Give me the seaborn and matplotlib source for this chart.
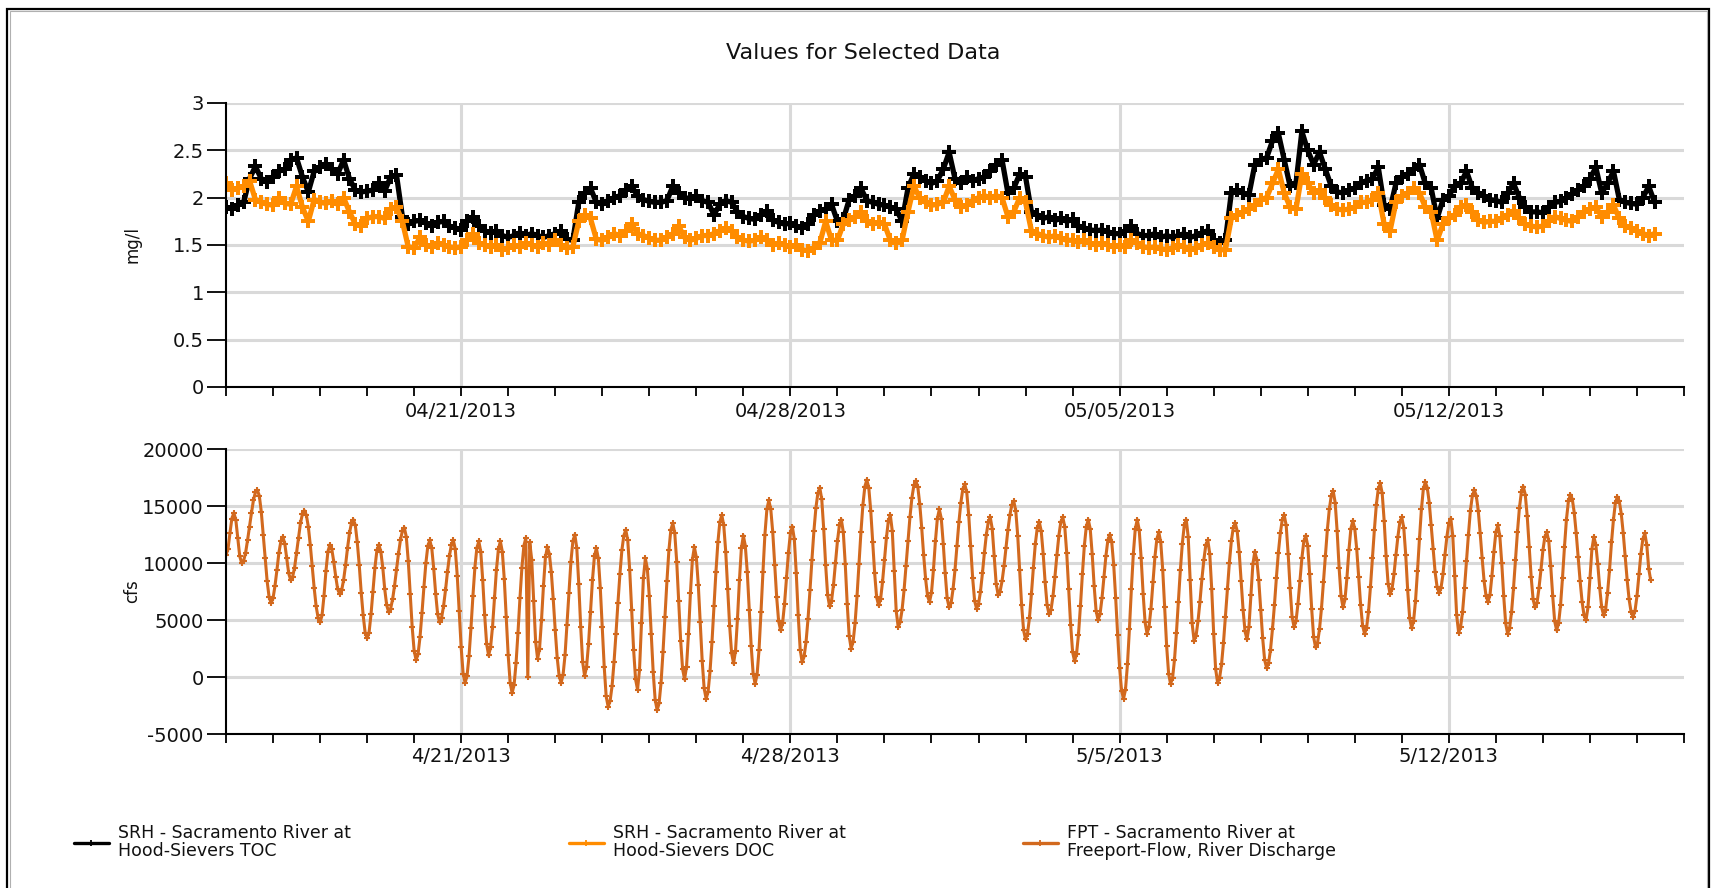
import pandas as pd
import matplotlib
matplotlib.use("Agg")
import matplotlib.pyplot as plt
import matplotlib.dates as mdates
from matplotlib.ticker import FuncFormatter
from matplotlib.lines import Line2D
from matplotlib.patches import Rectangle
import seaborn as sns

# ---------------- data ----------------
title = "Values for Selected Data"
start_time = "2013-04-16 00:00"
x_start, x_end = "2013-04-16", "2013-05-17"
quality_step = "3h"
flow_step = "h"

series_labels = [
    "SRH - Sacramento River at\nHood-Sievers TOC",
    "SRH - Sacramento River at\nHood-Sievers DOC",
    "FPT - Sacramento River at\nFreeport-Flow, River Discharge",
]
top_ylabel = "mg/l"
bottom_ylabel = "cfs"
top_yticks = [0, 0.5, 1, 1.5, 2, 2.5, 3]
bottom_yticks = [-5000, 0, 5000, 10000, 15000, 20000]

toc_mgl = [
    1.90, 1.88, 1.92, 1.95, 2.20, 2.33, 2.20, 2.17,
    2.22, 2.28, 2.30, 2.40, 2.42, 2.22, 2.06, 2.28,
    2.32, 2.36, 2.30, 2.25, 2.40, 2.20, 2.08, 2.06,
    2.07, 2.08, 2.15, 2.07, 2.22, 2.24, 1.80, 1.72,
    1.75, 1.76, 1.73, 1.70, 1.74, 1.75, 1.70, 1.68,
    1.66, 1.75, 1.80, 1.70, 1.65, 1.63, 1.65, 1.60,
    1.58, 1.60, 1.63, 1.60, 1.62, 1.60, 1.58, 1.60,
    1.62, 1.65, 1.56, 1.55, 1.95, 2.05, 2.10, 1.95,
    1.93, 1.97, 2.00, 2.02, 2.08, 2.12, 2.02, 1.98,
    1.96, 1.95, 1.95, 1.97, 2.12, 2.05, 2.00, 1.99,
    2.02, 1.97, 1.95, 1.82, 1.93, 1.97, 1.95, 1.85,
    1.80, 1.78, 1.77, 1.82, 1.86, 1.76, 1.74, 1.72,
    1.73, 1.70, 1.68, 1.72, 1.82, 1.86, 1.88, 1.93,
    1.75, 1.77, 1.98, 2.02, 2.10, 1.97, 1.95, 1.93,
    1.92, 1.90, 1.88, 1.75, 2.10, 2.25, 2.22, 2.18,
    2.15, 2.18, 2.30, 2.48, 2.20, 2.15, 2.22, 2.18,
    2.20, 2.22, 2.28, 2.35, 2.40, 2.05, 2.10, 2.25,
    2.22, 1.85, 1.82, 1.78, 1.80, 1.76, 1.78, 1.75,
    1.77, 1.70, 1.68, 1.66, 1.65, 1.66, 1.64, 1.62,
    1.62, 1.65, 1.70, 1.62, 1.60, 1.60, 1.62, 1.58,
    1.60, 1.58, 1.60, 1.62, 1.58, 1.60, 1.63, 1.65,
    1.55, 1.52, 1.55, 2.05, 2.08, 2.05, 2.03, 2.35,
    2.40, 2.42, 2.60, 2.68, 2.40, 2.12, 2.15, 2.70,
    2.50, 2.35, 2.48, 2.30, 2.12, 2.06, 2.05, 2.08,
    2.10, 2.15, 2.18, 2.20, 2.32, 1.92, 1.88, 2.15,
    2.22, 2.25, 2.30, 2.35, 2.15, 2.10, 1.78, 1.98,
    2.02, 2.12, 2.15, 2.28, 2.10, 2.05, 2.02, 1.98,
    1.97, 1.95, 2.05, 2.15, 2.00, 1.90, 1.85, 1.85,
    1.84, 1.90, 1.95, 1.96, 2.00, 2.04, 2.08, 2.12,
    2.20, 2.32, 2.05, 2.15, 2.28, 1.98, 1.95, 1.94,
    1.93, 2.00, 2.12, 1.95,
]

doc_mgl = [
    2.15, 2.08, 2.10, 2.12, 2.18, 1.98, 1.95, 1.93,
    1.92, 2.00, 1.94, 1.93, 2.12, 1.90, 1.75, 1.98,
    1.95, 1.94, 1.96, 1.93, 2.00, 1.85, 1.72, 1.70,
    1.78, 1.80, 1.80, 1.78, 1.88, 1.90, 1.75, 1.48,
    1.47, 1.58, 1.50, 1.48, 1.52, 1.50, 1.48, 1.47,
    1.48, 1.55, 1.62, 1.52, 1.50, 1.48, 1.50, 1.45,
    1.47, 1.50, 1.48, 1.52, 1.50, 1.48, 1.52, 1.50,
    1.55, 1.50, 1.47, 1.48, 1.75, 1.82, 1.78, 1.56,
    1.55, 1.58, 1.62, 1.60, 1.65, 1.72, 1.62, 1.60,
    1.57, 1.55, 1.55, 1.58, 1.62, 1.70, 1.58, 1.55,
    1.57, 1.60, 1.60, 1.62, 1.65, 1.68, 1.65, 1.58,
    1.55, 1.54, 1.55, 1.58, 1.55, 1.50, 1.52, 1.50,
    1.48, 1.50, 1.45, 1.44, 1.47, 1.52, 1.75, 1.55,
    1.55, 1.72, 1.76, 1.80, 1.85, 1.75, 1.72, 1.74,
    1.72, 1.55, 1.52, 1.55, 1.85, 2.12, 2.00, 1.95,
    1.92, 1.93, 1.95, 2.12, 1.98, 1.90, 1.92, 1.97,
    2.00, 2.02, 2.00, 2.02, 2.00, 1.80, 1.85, 2.00,
    1.95, 1.65, 1.62, 1.60, 1.58, 1.60, 1.57, 1.55,
    1.55, 1.53, 1.55, 1.52, 1.50, 1.52, 1.50, 1.48,
    1.50, 1.48, 1.55, 1.52, 1.48, 1.47, 1.48, 1.46,
    1.45, 1.47, 1.50, 1.48, 1.45, 1.47, 1.50, 1.52,
    1.48, 1.45, 1.45, 1.78, 1.82, 1.85, 1.88, 1.92,
    1.98, 2.00, 2.15, 2.30, 2.05, 1.90, 1.88, 2.25,
    2.15, 2.05, 2.08, 2.00, 1.92, 1.88, 1.87, 1.88,
    1.90, 1.95, 1.95, 1.98, 2.05, 1.72, 1.65, 1.95,
    2.02, 2.05, 2.10, 2.05, 1.90, 1.85, 1.55, 1.72,
    1.78, 1.82, 1.90, 1.92, 1.85, 1.76, 1.74, 1.75,
    1.75, 1.78, 1.82, 1.86, 1.78, 1.72, 1.70, 1.69,
    1.70, 1.75, 1.80, 1.78, 1.76, 1.75, 1.80, 1.85,
    1.88, 1.90, 1.80, 1.85, 1.92, 1.78, 1.70, 1.68,
    1.65, 1.62, 1.60, 1.62,
]

flow_cfs = [
    10700, 11200, 12600, 13900, 14400, 13800, 12200, 10600, 10000, 10200, 10900, 12000,
    13200, 14400, 15500, 16200, 16400, 15900, 14500, 12500, 10400, 8400, 7000, 6500,
    6900, 8000, 9400, 10900, 11900, 12300, 11700, 10400, 9100, 8500, 8800, 9600,
    10900, 12200, 13500, 14300, 14600, 14200, 13200, 11600, 9700, 7800, 6200, 5200,
    4800, 5400, 7100, 9300, 11000, 11600, 11200, 10100, 8800, 7700, 7300, 7600,
    8500, 9800, 11300, 12600, 13500, 13800, 13300, 11800, 9800, 7400, 5400, 3900,
    3400, 3900, 5500, 7500, 9600, 11100, 11600, 11000, 9600, 7700, 6300, 5700,
    6000, 6800, 8000, 9400, 10800, 12000, 12800, 13100, 12300, 10200, 7300, 4400,
    2300, 1500, 2000, 3500, 5600, 7900, 10000, 11500, 12000, 11300, 9500, 7300,
    5500, 4800, 5200, 6200, 7600, 9200, 10600, 11600, 12000, 11200, 8900, 5800,
    2600, 300, -500, 100, 1800, 4300, 7100, 9600, 11300, 11900, 11000, 8500,
    5400, 2900, 1900, 2600, 4400, 6900, 9400, 11200, 11900, 11000, 8600, 5300,
    1900, -500, -1400, -700, 1200, 3900, 6900, 9600, 11500, 12200, 0, 11800,
    10300, 6700, 3100, 1600, 2500, 5000, 8000, 10500, 11400, 10800, 9200, 6800,
    4100, 1700, 100, -500, 200, 1900, 4600, 7400, 10100, 11900, 12500, 11300,
    8200, 4400, 1300, 100, 900, 2900, 5700, 8500, 10600, 11300, 10400, 7800,
    4400, 900, -1700, -2600, -2100, -800, 1300, 3800, 6500, 9000, 11100, 12400,
    12900, 12000, 9400, 5900, 2400, -200, -1100, 600, 4700, 8700, 10400, 9500,
    7100, 3800, 400, -2000, -2900, -2300, -500, 2200, 5300, 8400, 11100, 12900,
    13500, 12600, 10100, 6700, 3200, 700, -200, 900, 3800, 7400, 10300, 11400,
    10500, 8100, 4800, 1400, -1000, -1900, -1300, 500, 3100, 6200, 9200, 11800,
    13600, 14200, 13300, 11000, 7700, 4500, 2100, 1200, 2300, 5100, 8500, 11300,
    12400, 11500, 9200, 5900, 2700, 300, -600, 200, 2400, 5700, 9200, 12500,
    14700, 15500, 14700, 12700, 9800, 7000, 4900, 4100, 4700, 6400, 8700, 10900,
    12600, 13200, 12100, 9100, 5400, 2400, 1300, 1800, 3100, 5100, 7600, 10300,
    12800, 14800, 16100, 16600, 15600, 13000, 9800, 7200, 6200, 6700, 8100, 10000,
    11900, 13300, 13800, 12700, 9900, 6400, 3600, 2500, 3100, 4700, 7100, 9900,
    12700, 15100, 16700, 17300, 16600, 14600, 11800, 9100, 7000, 6300, 6800, 8300,
    10300, 12200, 13700, 14200, 12800, 9300, 5800, 4400, 4800, 5900, 7600, 9700,
    11900, 14000, 15700, 16800, 17200, 16700, 15200, 13100, 10700, 8600, 7100, 6600,
    7400, 9400, 11900, 13900, 14700, 13900, 11700, 9100, 6900, 6100, 6500, 7700,
    9400, 11500, 13600, 15300, 16500, 16900, 16200, 14200, 11500, 8700, 6700, 6000,
    6400, 7500, 9100, 10900, 12500, 13600, 14000, 13000, 10600, 8200, 7200, 7500,
    8400, 9700, 11300, 12900, 14200, 15100, 15400, 14600, 12400, 9400, 6300, 4100,
    3300, 3800, 5200, 7300, 9600, 11700, 13100, 13600, 12800, 10800, 8300, 6300,
    5500, 5900, 7100, 8800, 10700, 12400, 13600, 14000, 13200, 10900, 7700, 4600,
    2200, 1400, 2000, 3700, 6200, 9000, 11500, 13200, 13800, 13000, 10800, 8000,
    5800, 5000, 5500, 6900, 8800, 10600, 12000, 12500, 11800, 9800, 6900, 3700,
    800, -1200, -1900, -1100, 1100, 4200, 7700, 10800, 13000, 13800, 12900, 10400,
    7300, 4800, 3800, 4400, 6000, 8300, 10500, 12100, 12700, 11800, 9400, 6100,
    2700, 300, -600, -100, 1500, 3900, 6600, 9400, 11700, 13300, 13800, 12300,
    8500, 4700, 3200, 3600, 4900, 6600, 8600, 10300, 11600, 12000, 10800, 7700,
    3800, 700, -500, -100, 1100, 3000, 5300, 7700, 10000, 11900, 13100, 13500,
    12800, 11000, 8400, 5900, 4000, 3300, 4400, 7200, 9900, 11000, 10300, 8500,
    5900, 3400, 1500, 800, 1200, 2400, 4200, 6300, 8700, 10900, 12600, 13800,
    14200, 13300, 10800, 7800, 5300, 4400, 4900, 6400, 8400, 10400, 11900, 12400,
    11500, 9000, 6000, 3500, 2600, 3000, 4200, 6000, 8300, 10600, 12900, 14700,
    15900, 16300, 15300, 12800, 9600, 7100, 6100, 6800, 8700, 11100, 13000, 13700,
    13000, 11200, 8800, 6300, 4500, 3800, 4300, 5700, 7900, 10400, 12900, 15100,
    16500, 17000, 16100, 13700, 10600, 8200, 7300, 7700, 9000, 10700, 12300, 13600,
    14000, 13100, 10700, 7600, 5200, 4300, 4900, 6700, 9300, 12100, 14700, 16500,
    17100, 16600, 15300, 13300, 11200, 9200, 7900, 7400, 7800, 9000, 10700, 12300,
    13500, 13900, 12400, 8900, 5400, 3900, 4400, 5700, 7800, 10200, 12500, 14600,
    15900, 16400, 15900, 14600, 12600, 10400, 8400, 7100, 6600, 7200, 8900, 11000,
    12700, 13300, 12400, 10000, 7100, 4700, 3800, 4300, 5700, 7800, 10300, 12700,
    14800, 16200, 16700, 16000, 14100, 11400, 8800, 6800, 6100, 6500, 7800, 9400,
    11100, 12300, 12700, 11900, 9700, 7100, 4900, 4100, 4700, 6300, 8700, 11400,
    13800, 15400, 16000, 15600, 14400, 12600, 10500, 8400, 6600, 5400, 5000, 6100,
    8700, 11200, 12300, 11600, 9900, 7800, 6100, 5400, 5900, 7400, 9400, 11800,
    13800, 15300, 15800, 15400, 14300, 12600, 10600, 8500, 6800, 5700, 5300, 5800,
    7100, 9000, 10800, 12100, 12600, 11600, 9500, 8500,
]

quality_times = pd.date_range(start_time, periods=len(toc_mgl), freq=quality_step)
flow_times = pd.date_range(start_time, periods=len(flow_cfs), freq=flow_step)

# ---------------- style ----------------
sns.set_theme(style="white")
plt.rcParams["font.family"] = ["DejaVu Sans"]

TOC_COLOR = "#000000"
DOC_COLOR = "#FF8C00"
FLOW_COLOR = "#D2691E"
GRID_COLOR = "#d9d9d9"
TEXT_COLOR = "#111111"

W, H = 1716, 888
fig = plt.figure(figsize=(W / 100, H / 100), dpi=100)
fig.patch.set_facecolor("white")


def rect(l, t, r, b):
    return [l / W, 1 - b / H, (r - l) / W, (b - t) / H]


ax1 = fig.add_axes(rect(226, 103, 1684, 387))
ax2 = fig.add_axes(rect(226, 449, 1684, 734))

line_kw = dict(errorbar=None, sort=False, legend=False)
sns.lineplot(x=quality_times, y=toc_mgl, ax=ax1, color=TOC_COLOR, lw=3.8,
             marker="P", markersize=9.5, markeredgewidth=0, **line_kw)
sns.lineplot(x=quality_times, y=doc_mgl, ax=ax1, color=DOC_COLOR, lw=3.8,
             marker="P", markersize=9.5, markeredgewidth=0, **line_kw)
sns.lineplot(x=flow_times, y=flow_cfs, ax=ax2, color=FLOW_COLOR, lw=2.2,
             marker="+", markersize=5, markeredgewidth=1.5,
             markeredgecolor=FLOW_COLOR, **line_kw)


def fmt_top(v, pos):
    d = mdates.num2date(v)
    return d.strftime("%m/%d/%Y")


def fmt_bottom(v, pos):
    d = mdates.num2date(v)
    return f"{d.month}/{d.day}/{d.year}"


def style(ax, yticks, ylabel, xfmt, xpad):
    ax.set_xlim(pd.Timestamp(x_start), pd.Timestamp(x_end))
    ax.set_ylim(yticks[0], yticks[-1])
    ax.set_yticks(yticks)
    ax.yaxis.set_major_formatter(FuncFormatter(lambda v, p: f"{v:g}"))
    ax.xaxis.set_major_locator(mdates.WeekdayLocator(byweekday=mdates.SU))
    ax.xaxis.set_minor_locator(mdates.DayLocator())
    ax.xaxis.set_major_formatter(FuncFormatter(xfmt))
    ax.set_xlabel("")
    ax.set_ylabel(ylabel, fontsize=12, color=TEXT_COLOR)
    ax.yaxis.set_label_coords(-0.058, 0.5)
    ax.set_facecolor("white")
    ax.set_axisbelow(True)
    ax.grid(True, axis="y", which="major", color=GRID_COLOR, lw=2.2)
    ax.grid(True, axis="x", which="major", color=GRID_COLOR, lw=2.2)
    ax.grid(False, axis="x", which="minor")
    for s in ("top", "right"):
        ax.spines[s].set_visible(False)
    for s in ("left", "bottom"):
        ax.spines[s].set_visible(True)
        ax.spines[s].set_color("black")
        ax.spines[s].set_linewidth(1.5)
    ax.tick_params(axis="y", which="major", direction="out", length=13.5,
                   width=1.3, color="black", pad=2.5, labelsize=14,
                   labelcolor=TEXT_COLOR, left=True)
    ax.tick_params(axis="x", which="both", direction="out", length=6.5,
                   width=1.3, color="black", bottom=True)
    ax.tick_params(axis="x", which="major", pad=xpad, labelsize=14,
                   labelcolor=TEXT_COLOR)


style(ax1, top_yticks, top_ylabel, fmt_top, 4.5)
style(ax2, bottom_yticks, bottom_ylabel, fmt_bottom, 2.5)

fig.text(863 / W, 1 - 53 / H, title, ha="center", va="center",
         fontsize=16, color=TEXT_COLOR)

# legends
legend_pos = [74, 569, 1023]
legend_colors = [TOC_COLOR, DOC_COLOR, FLOW_COLOR]
for xpos, col, lab in zip(legend_pos, legend_colors, series_labels):
    h = Line2D([], [], color=col, lw=2.4, marker="+", markersize=5,
               markeredgewidth=1.3)
    leg = fig.legend([h], [lab], loc="upper left",
                     bbox_to_anchor=(xpos / W, 1 - 824 / H),
                     bbox_transform=fig.transFigure, frameon=False,
                     fontsize=12.5, handlelength=2.0, handletextpad=0.55,
                     borderpad=0, borderaxespad=0)
    for t in leg.get_texts():
        t.set_linespacing(1.0)
        t.set_color(TEXT_COLOR)

# outer frame of the chart window
fig.add_artist(Rectangle((7 / W, -0.05), (1709 - 7) / W, (888 - 9) / H + 0.05,
                         transform=fig.transFigure, fill=False,
                         edgecolor="black", lw=1.6))
fig.add_artist(Rectangle((9.5 / W, -0.05), (1706.5 - 9.5) / W, (888 - 11.5) / H + 0.05,
                         transform=fig.transFigure, fill=False,
                         edgecolor="#b0b0b0", lw=0.8))

fig.savefig("out.png", dpi=100)
